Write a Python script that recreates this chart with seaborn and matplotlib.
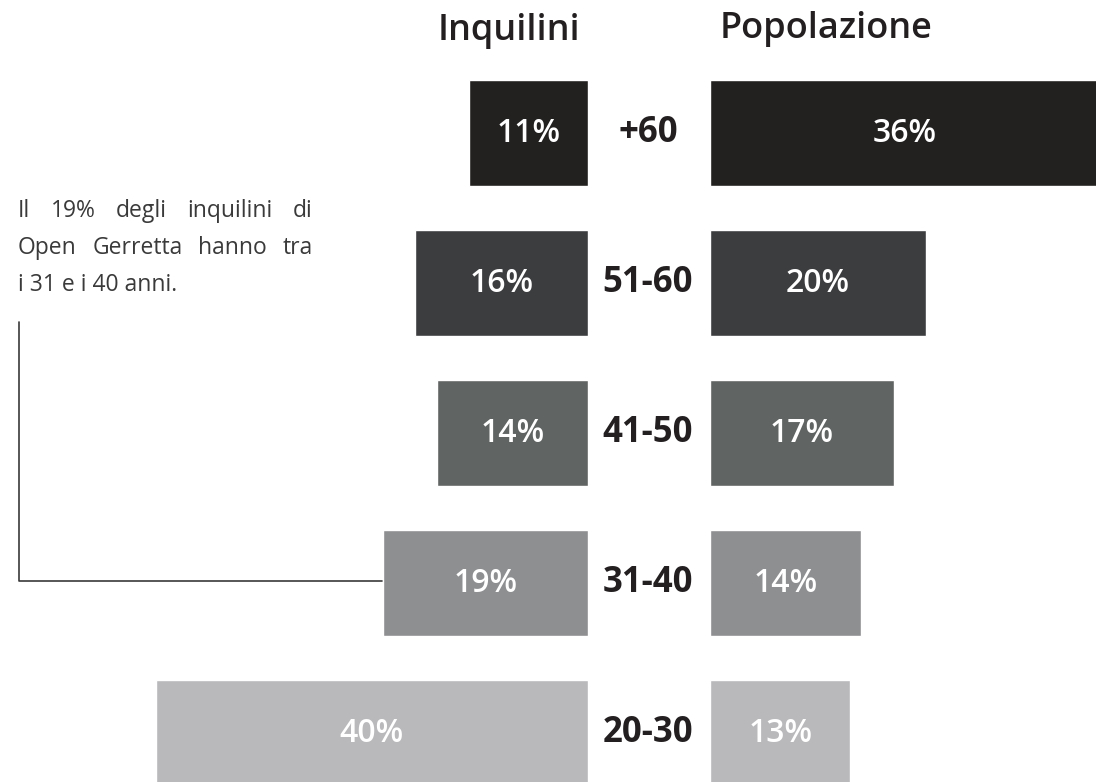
import pandas as pd
import matplotlib.pyplot as plt
import seaborn as sns

# Data
fasce = ["+60", "51-60", "41-50", "31-40", "20-30"]
inquilini = [11, 16, 14, 19, 40]
popolazione = [36, 20, 17, 14, 13]
colori = ["#231f20", "#3c3d3f", "#5f6564", "#8e8f91", "#b8b9bc"]
note = ["Il 19% degli inquilini di", "Open Gerretta hanno tra", "i 31 e i 40 anni."]

df = pd.DataFrame({"fascia": fasce, "inquilini": inquilini, "popolazione": popolazione})

sns.set_style("white")
plt.rcParams["font.family"] = ["Open Sans", "DejaVu Sans"]

W, H = 1096, 782
fig = plt.figure(figsize=(W / 100, H / 100), dpi=100)

# pixel geometry: ~10.8 px per percentage point
ppp = 10.8
left_edge, right_start = 588, 710
ax_l = fig.add_axes([0, 0, left_edge / W, 1])
ax_r = fig.add_axes([right_start / W, 0, (W - right_start) / W, 1])

# y: first bar centre at 133 px, pitch 150 px
y_top = -133 / 150
y_bot = (H - 133) / 150

sns.barplot(data=df, y="fascia", x="inquilini", hue="fascia", palette=colori,
            order=fasce, orient="h", width=0.713, legend=False, ax=ax_l)
sns.barplot(data=df, y="fascia", x="popolazione", hue="fascia", palette=colori,
            order=fasce, orient="h", width=0.713, legend=False, ax=ax_r)

ax_l.set_xlim(left_edge / ppp, 0)
ax_r.set_xlim(0, (W - right_start) / ppp)
for ax in (ax_l, ax_r):
    ax.set_ylim(y_bot, y_top)
    ax.axis("off")

for ax, vals in ((ax_l, inquilini), (ax_r, popolazione)):
    for i, v in enumerate(vals):
        ax.text(v / 2, i, f"{v}%", ha="center", va="center", color="white",
                fontsize=23, fontweight="semibold")

# age labels in the middle
for i, f in enumerate(fasce):
    ax_l.annotate(f, xy=(0, i), xycoords="data", xytext=(648 - left_edge, 0),
                  textcoords="offset pixels", ha="center", va="center",
                  fontsize=25, fontweight="bold", color="#231f20")

fig.text(509 / W, 1 - 31 / H, "Inquilini", ha="center", va="center",
         fontsize=26, fontweight="semibold", color="#231f20")
fig.text(826 / W, 1 - 29 / H, "Popolazione", ha="center", va="center",
         fontsize=26, fontweight="semibold", color="#231f20")

# justified note
renderer = fig.canvas.get_renderer()
x0, x1 = 18, 313
for k, line in enumerate(note):
    y = 1 - (211 + 37 * k) / H
    words = line.split()
    if k == len(note) - 1:
        fig.text(x0 / W, y, line, ha="left", va="center", fontsize=16.5,
                 color="#3a3a3a")
        continue
    ts = [fig.text(0, y, w, ha="left", va="center", fontsize=16.5,
                   color="#3a3a3a") for w in words]
    widths = [t.get_window_extent(renderer).width for t in ts]
    gap = (x1 - x0 - sum(widths)) / (len(words) - 1)
    x = x0
    for t, w in zip(ts, widths):
        t.set_x(x / W)
        x += w + gap

# leader line from note to the 31-40 bar
fig.add_artist(plt.Line2D([19 / W, 19 / W, 382 / W],
                          [1 - 322 / H, 1 - 581 / H, 1 - 581 / H],
                          color="#3a3a3a", lw=1.2))

fig.savefig("out.png", dpi=100, facecolor="white")
